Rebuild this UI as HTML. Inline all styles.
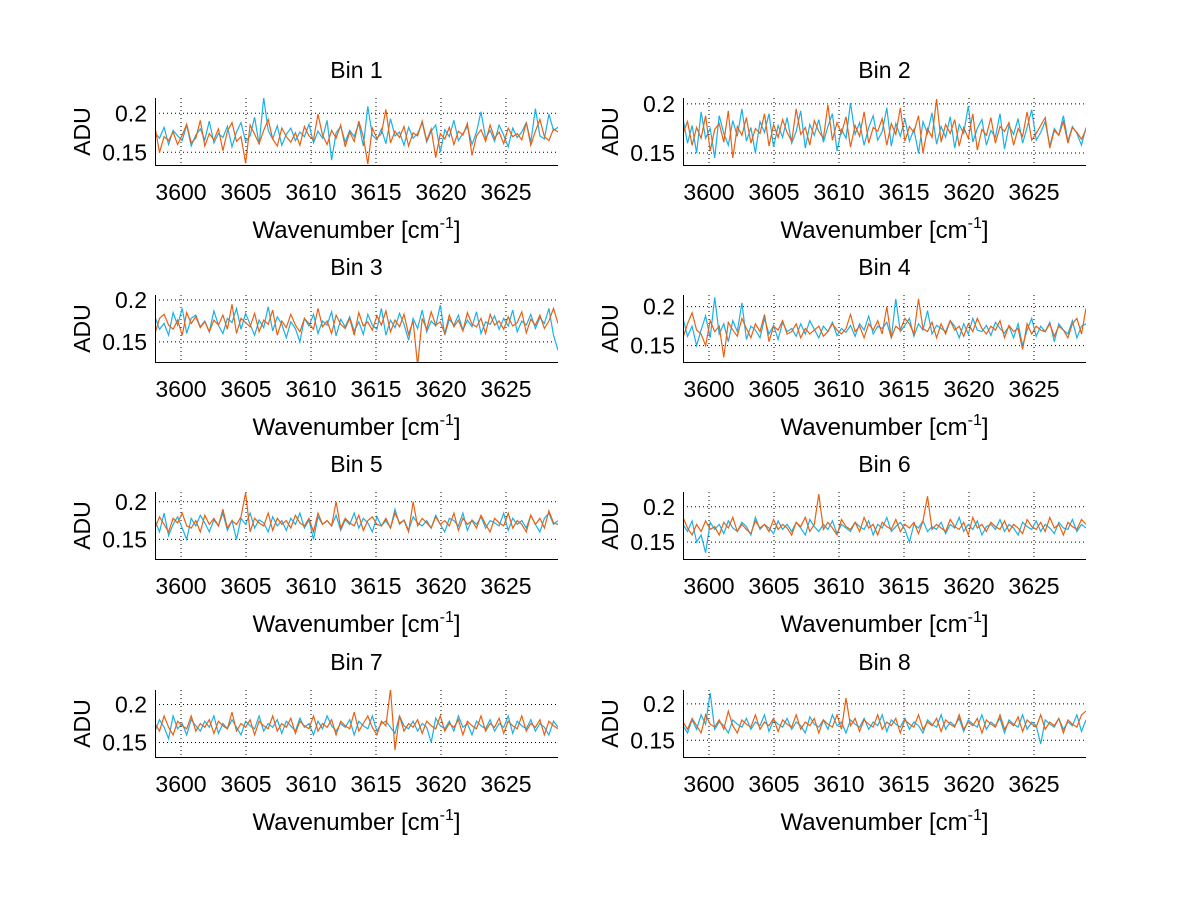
<!DOCTYPE html>
<html><head><meta charset="utf-8"><style>
html,body{margin:0;padding:0;background:#fff;}
svg{display:block;font-family:"Liberation Sans",Arial,sans-serif;}
</style></head><body>
<svg id="fig" width="1200" height="901" viewBox="0 0 1200 901"></svg>
<script>
const xTicks=[3600,3605,3610,3615,3620,3625];
const yTicks=[0.15,0.2];
const yTickLabels=["0.15","0.2"];
const xMin=3598, xMax=3629;
const binTitles=["Bin 1","Bin 2","Bin 3","Bin 4","Bin 5","Bin 6","Bin 7","Bin 8"];
const yLimits=[[0.1337,0.2196],[0.1378,0.206],[0.126,0.206],[0.129,0.215],[0.124,0.213],[0.126,0.221],[0.131,0.219],[0.127,0.219]];
const blue1=[175,168,182,160,178,171,165,185,158,172,180,166,190,162,174,169,183,157,176,188,164,171,195,160,220,178,167,184,159,173,181,165,176,170,186,162,177,168,191,140,175,183,163,178,170,187,158,209,172,166,180,161,193,171,176,159,182,168,174,188,163,177,185,150,179,170,191,165,174,183,160,176,202,168,178,164,185,172,157,181,169,176,188,163,206,171,167,199,178,182];
const orange1=[182,150,170,165,176,160,172,186,162,168,191,158,174,166,180,152,177,188,164,170,136,185,173,161,178,192,167,158,181,170,163,175,159,183,171,166,199,172,160,178,168,185,157,176,164,190,170,135,181,168,174,205,162,177,169,183,158,175,171,190,165,180,143,174,167,182,160,177,172,187,146,171,179,164,185,168,176,161,181,170,174,166,188,159,177,192,170,165,180,176];
const blue2=[185,160,178,150,192,165,175,145,188,170,158,183,167,195,162,176,150,182,171,190,156,178,166,186,160,172,193,155,179,168,184,161,177,190,152,174,165,201,169,181,158,176,188,163,172,196,157,180,167,185,162,174,150,182,170,191,159,177,166,187,155,179,170,198,161,175,184,158,173,166,190,154,178,169,185,160,176,194,163,171,182,157,175,168,188,162,177,170,158,176];
const orange2=[170,182,158,176,165,188,152,174,180,161,193,145,177,168,186,160,175,170,190,157,179,166,184,171,162,195,169,176,158,183,172,165,199,163,181,170,187,156,178,167,192,160,176,172,185,158,180,169,196,162,177,171,188,150,175,166,205,161,179,170,184,157,176,165,190,153,174,168,186,160,177,172,181,158,175,167,192,163,170,178,186,155,173,168,182,160,176,171,164,174];
const blue3=[180,165,172,158,185,170,190,160,178,182,168,175,162,187,170,160,178,173,190,165,184,171,158,176,167,192,163,180,171,155,174,166,150,178,169,183,160,175,170,186,157,177,168,180,163,174,159,183,170,165,190,158,176,167,184,171,152,178,166,188,162,175,169,194,158,177,170,182,164,176,168,186,160,174,171,181,165,178,169,188,162,175,170,183,166,179,172,190,158,140];
const orange3=[160,178,183,170,165,176,158,185,172,180,167,174,162,176,170,182,165,195,160,178,173,168,184,162,176,171,188,158,175,167,183,170,162,178,172,165,190,168,175,160,182,171,166,178,158,185,169,174,164,181,170,187,162,176,168,183,159,175,122,178,165,186,170,174,160,182,168,176,163,185,171,168,178,160,183,170,175,165,180,169,173,186,161,177,170,182,166,175,190,172];
const blue4=[185,162,175,150,170,188,160,212,165,178,155,182,168,205,158,175,170,160,185,165,176,158,180,168,172,162,178,165,182,171,160,175,168,180,163,172,167,176,162,178,170,188,165,175,172,180,160,210,168,176,185,162,178,170,195,165,176,172,168,182,175,160,178,165,185,170,168,176,163,180,172,166,175,160,178,150,170,185,162,175,168,180,155,178,170,165,182,160,175,178];
const orange4=[160,178,192,170,165,150,182,168,175,135,180,170,162,185,172,160,178,168,190,155,175,170,182,165,168,178,160,172,165,170,175,162,168,178,170,165,172,190,168,175,160,178,170,182,165,200,160,175,170,185,178,165,210,172,168,180,160,178,165,182,170,175,162,178,168,185,172,165,175,170,182,160,176,168,172,145,178,165,175,170,168,178,162,175,170,160,178,185,165,198];
const blue5=[175,160,185,155,170,180,165,150,178,168,182,172,160,176,168,185,162,175,150,178,170,185,165,176,172,160,180,168,175,162,178,170,185,165,176,150,180,170,175,168,182,162,176,170,185,165,178,172,160,180,168,175,165,190,170,176,162,180,172,168,175,165,182,170,160,178,175,168,185,162,176,170,180,165,175,172,168,185,162,178,170,175,165,182,170,160,178,185,170,175];
const orange5=[165,180,170,160,178,172,185,168,165,175,160,182,170,178,168,190,165,175,170,180,212,160,178,172,168,185,162,178,170,175,165,182,172,168,178,160,185,170,175,168,200,165,178,172,168,182,162,175,180,170,168,178,165,185,172,175,160,200,168,178,172,165,180,170,175,168,185,162,178,170,175,165,182,170,160,178,172,168,185,165,175,170,160,182,170,178,165,188,172,170];
const blue6=[175,165,180,150,160,135,178,168,175,162,180,170,165,178,172,160,185,168,175,170,162,180,168,175,165,178,170,160,182,172,165,175,168,180,162,175,170,165,178,172,168,180,160,175,170,185,165,172,178,168,150,175,170,180,165,172,168,178,162,175,170,185,165,175,168,180,160,172,175,168,182,165,175,170,160,178,172,168,180,165,175,170,162,178,170,168,182,165,175,170];
const orange6=[185,170,160,175,165,180,168,172,160,178,170,185,165,175,168,162,180,170,175,165,182,168,175,170,160,178,172,185,165,175,218,168,178,170,160,182,172,168,178,165,185,170,175,160,178,172,168,182,165,175,170,178,162,180,215,168,175,170,165,182,172,168,178,160,185,170,175,165,178,172,168,180,165,175,170,162,182,172,168,178,165,185,170,175,160,178,172,168,182,175];
const blue7=[165,180,170,155,185,168,175,160,180,172,165,178,170,185,162,175,168,180,170,160,178,172,168,185,165,175,170,180,162,178,172,165,182,170,175,160,178,168,185,172,165,175,170,180,160,178,172,168,185,165,175,178,170,162,185,172,168,178,165,175,170,150,182,172,168,178,165,185,170,175,160,178,172,168,180,165,175,170,185,162,178,172,168,180,165,175,170,160,178,170];
const orange7=[175,165,185,170,160,178,172,168,185,165,175,170,180,162,178,172,168,190,165,175,170,180,160,178,172,168,185,165,175,170,182,162,178,172,168,185,165,175,170,180,160,178,172,168,190,165,175,185,170,160,178,172,220,140,185,165,175,170,180,162,178,172,168,185,165,175,170,180,160,178,172,168,185,165,175,170,182,162,178,172,168,185,165,175,170,180,160,178,172,168];
const blue8=[170,160,178,165,185,172,215,165,175,170,160,178,172,168,180,165,175,170,185,162,178,172,168,180,165,175,170,160,182,172,168,178,165,185,170,175,160,178,172,168,180,165,175,170,185,162,178,172,168,180,165,175,170,160,178,172,168,185,165,175,170,180,162,178,172,168,185,165,175,170,180,160,178,172,168,185,165,175,170,145,178,172,168,180,165,175,170,185,162,178];
const orange8=[175,165,180,170,160,185,172,168,178,165,190,170,160,178,172,168,185,165,175,170,180,162,178,172,168,185,165,175,170,180,160,178,172,168,185,165,208,170,180,162,178,172,168,185,165,175,170,180,160,178,172,168,185,165,175,170,180,162,178,172,168,185,165,175,170,180,160,178,172,168,185,165,175,170,182,162,178,172,168,185,165,175,170,180,160,178,172,168,185,190];
const blueSeries=[blue1,blue2,blue3,blue4,blue5,blue6,blue7,blue8];
const orangeSeries=[orange1,orange2,orange3,orange4,orange5,orange6,orange7,orange8];

const NS="http://www.w3.org/2000/svg";
const svg=document.getElementById('fig');
function mk(tag,attrs,parent){const e=document.createElementNS(NS,tag);for(const k in attrs)e.setAttribute(k,attrs[k]);(parent||svg).appendChild(e);return e;}
const colL=[155,683], axW=403, rowT=[98,295,492,690], axH=67;
for(let i=0;i<8;i++){
  const L=colL[i%2], T=rowT[Math.floor(i/2)], R=L+axW, B=T+axH;
  const [y0,y1]=yLimits[i];
  const xs=v=>L+(v-xMin)/(xMax-xMin)*axW;
  const ys=v=>B-(v-y0)/(y1-y0)*axH;
  const g=mk('g',{});
  
  
  const cp=mk('clipPath',{id:'c'+i},g);mk('rect',{x:L,y:T,width:axW,height:axH},cp);
  xTicks.forEach(t=>{const l=mk('line',{x1:xs(t),x2:xs(t),y1:T,y2:B,stroke:'#000','stroke-width':1,'stroke-dasharray':'1,3'},g);
    
    
    const tl=mk('text',{x:xs(t),y:B+35,'font-size':23,'text-anchor':'middle',fill:'#000'},g);tl.textContent=t;
    
    });
  yTicks.forEach((t,k)=>{const l=mk('line',{x1:L,x2:R,y1:ys(t),y2:ys(t),stroke:'#000','stroke-width':1,'stroke-dasharray':'1,3'},g);
    
    
    const tl=mk('text',{x:L-8,y:ys(t)+8,'font-size':23,'text-anchor':'end',fill:'#000'},g);tl.textContent=yTickLabels[k];
    
    });
  [[blueSeries[i],'#1ab0e8','blue-series'],[orangeSeries[i],'#ea6012','orange-series']].forEach(([d,c,n])=>{
    const pts=d.map((v,j)=>xs(xMin+j/(d.length-1)*(xMax-xMin)).toFixed(1)+','+ys(v/1000).toFixed(1)).join(' ');
    const p=mk('polyline',{points:pts,fill:'none',stroke:c,'stroke-width':1.2,'clip-path':'url(#c'+i+')'},g);
    
    
  });
  mk('line',{x1:L+0.5,x2:L+0.5,y1:T,y2:B,stroke:'#000'},g);
  mk('line',{x1:L,x2:R,y1:B+0.5,y2:B+0.5,stroke:'#000'},g);
  const ti=mk('text',{x:L+axW/2,y:T-20,'font-size':23,'text-anchor':'middle',fill:'#000'},g);ti.textContent=binTitles[i];
  
  
  const xl=mk('text',{x:L+axW/2,y:B+73,'font-size':24,'text-anchor':'middle',fill:'#000'},g);
  xl.innerHTML='Wavenumber [cm<tspan dy="-10" font-size="16">-1</tspan><tspan dy="10">]</tspan>';
  
  
  const yl=mk('text',{x:0,y:0,'font-size':23,'text-anchor':'middle',fill:'#000',transform:'translate('+(L-65)+','+(T+axH/2)+') rotate(-90)'},g);yl.textContent='ADU';
  
  
}
</script>
</body></html>
